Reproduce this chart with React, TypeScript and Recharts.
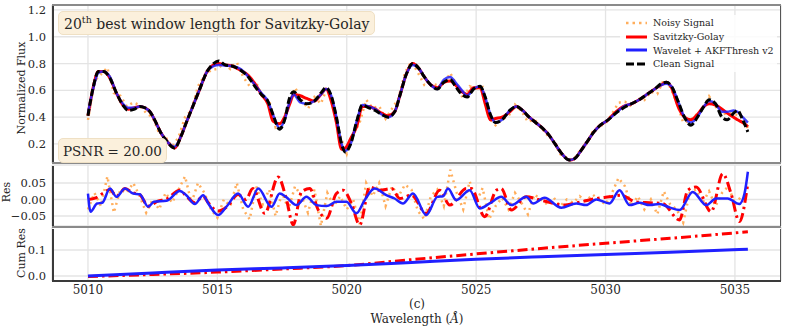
import React from 'react';
import { LineChart, Line, XAxis, YAxis, CartesianGrid } from 'recharts';

// wavelength grid for the smooth curves (top panel)
const fluxX = [
  5010.0, 5010.2, 5010.4, 5010.6, 5010.85, 5011.1, 5011.35, 5011.55, 5011.8, 5012.0,
  5012.2, 5012.4, 5012.6, 5012.8, 5013.05, 5013.35, 5013.6, 5013.8, 5014.05, 5014.3,
  5014.6, 5014.85, 5015.05, 5015.3, 5015.6, 5015.9, 5016.2, 5016.45, 5016.7, 5016.95,
  5017.15, 5017.4, 5017.6, 5017.8, 5017.95, 5018.2, 5018.45, 5018.75, 5019.0, 5019.2,
  5019.4, 5019.6, 5019.8, 5019.95, 5020.15, 5020.4, 5020.6, 5020.85, 5021.1, 5021.35,
  5021.6, 5021.85, 5022.05, 5022.3, 5022.55, 5022.8, 5023.0, 5023.25, 5023.5, 5023.75,
  5024.0, 5024.2, 5024.45, 5024.65, 5024.9, 5025.15, 5025.35, 5025.55, 5025.75, 5026.0,
  5026.3, 5026.55, 5026.8, 5027.05, 5027.3, 5027.55, 5027.8, 5028.05, 5028.3, 5028.6,
  5028.8, 5029.05, 5029.3, 5029.55, 5029.8, 5030.1, 5030.4, 5030.7, 5031.0, 5031.3,
  5031.6, 5031.9, 5032.15, 5032.35, 5032.55, 5032.8, 5033.05, 5033.3, 5033.55, 5033.8,
  5034.0, 5034.25, 5034.5, 5034.7, 5034.95, 5035.1, 5035.3, 5035.5,
];

const cleanFlux = [
  0.41, 0.62, 0.74, 0.74, 0.69, 0.58, 0.49, 0.45, 0.46, 0.48,
  0.47, 0.44, 0.37, 0.29, 0.22, 0.17, 0.26, 0.36, 0.48, 0.60,
  0.74, 0.80, 0.82, 0.79, 0.78, 0.75, 0.70, 0.63, 0.57, 0.52,
  0.42, 0.31, 0.38, 0.55, 0.59, 0.53, 0.50, 0.52, 0.58, 0.62,
  0.56, 0.40, 0.20, 0.14, 0.20, 0.38, 0.49, 0.47, 0.45, 0.42,
  0.40, 0.44, 0.56, 0.72, 0.80, 0.76, 0.70, 0.64, 0.61, 0.66,
  0.68, 0.63, 0.57, 0.55, 0.61, 0.63, 0.55, 0.42, 0.36, 0.38,
  0.45, 0.48, 0.45, 0.40, 0.36, 0.32, 0.27, 0.20, 0.13, 0.08,
  0.09, 0.15, 0.22, 0.29, 0.34, 0.38, 0.43, 0.47, 0.50, 0.53,
  0.57, 0.61, 0.65, 0.66, 0.63, 0.52, 0.40, 0.34, 0.40, 0.48,
  0.53, 0.50, 0.40, 0.38, 0.43, 0.45, 0.38, 0.29,
];

const sgFlux = [
  0.41, 0.62, 0.74, 0.74, 0.69, 0.58, 0.49, 0.46, 0.47, 0.48,
  0.47, 0.44, 0.37, 0.29, 0.22, 0.17, 0.26, 0.36, 0.48, 0.60,
  0.74, 0.79, 0.80, 0.79, 0.78, 0.75, 0.71, 0.65, 0.57, 0.50,
  0.37, 0.35, 0.40, 0.50, 0.57, 0.56, 0.54, 0.52, 0.57, 0.61,
  0.52, 0.36, 0.16, 0.17, 0.24, 0.34, 0.48, 0.48, 0.46, 0.43,
  0.41, 0.44, 0.56, 0.72, 0.80, 0.76, 0.70, 0.64, 0.62, 0.66,
  0.67, 0.64, 0.59, 0.57, 0.62, 0.62, 0.50, 0.38, 0.39, 0.40,
  0.44, 0.48, 0.45, 0.40, 0.36, 0.32, 0.27, 0.20, 0.13, 0.08,
  0.09, 0.15, 0.22, 0.29, 0.34, 0.38, 0.44, 0.48, 0.50, 0.53,
  0.57, 0.61, 0.64, 0.66, 0.62, 0.48, 0.40, 0.38, 0.42, 0.48,
  0.50, 0.49, 0.46, 0.43, 0.40, 0.38, 0.36, 0.33,
];

const waveletFlux = [
  0.43, 0.61, 0.73, 0.74, 0.70, 0.58, 0.50, 0.47, 0.47, 0.48,
  0.47, 0.44, 0.37, 0.29, 0.22, 0.18, 0.26, 0.36, 0.48, 0.60,
  0.74, 0.78, 0.79, 0.785, 0.78, 0.76, 0.70, 0.64, 0.58, 0.52,
  0.42, 0.32, 0.38, 0.52, 0.57, 0.51, 0.50, 0.52, 0.57, 0.61,
  0.56, 0.40, 0.20, 0.15, 0.20, 0.38, 0.49, 0.48, 0.46, 0.42,
  0.40, 0.44, 0.56, 0.72, 0.79, 0.76, 0.70, 0.64, 0.61, 0.68,
  0.70, 0.66, 0.60, 0.56, 0.61, 0.63, 0.55, 0.42, 0.36, 0.38,
  0.45, 0.48, 0.45, 0.40, 0.36, 0.32, 0.27, 0.20, 0.13, 0.08,
  0.09, 0.15, 0.22, 0.29, 0.34, 0.38, 0.43, 0.48, 0.50, 0.53,
  0.57, 0.61, 0.64, 0.65, 0.63, 0.52, 0.40, 0.36, 0.40, 0.48,
  0.52, 0.50, 0.44, 0.44, 0.45, 0.44, 0.40, 0.36,
];

// noisy observation, every 0.25 Å
const noisyX = Array.from({ length: 103 }, (_, i) => 5010 + i * 0.25);
const noisyFlux = [
  0.38, 0.67, 0.72, 0.77, 0.58, 0.56, 0.48, 0.51, 0.49, 0.43,
  0.40, 0.28, 0.25, 0.18, 0.25, 0.40, 0.45, 0.63, 0.71, 0.75,
  0.76, 0.80, 0.76, 0.81, 0.70, 0.63, 0.66, 0.545, 0.525, 0.325,
  0.365, 0.48, 0.62, 0.535, 0.463, 0.55, 0.50, 0.625, 0.46, 0.26,
  0.125, 0.27, 0.36, 0.53, 0.468, 0.483, 0.388, 0.464, 0.54, 0.733,
  0.815, 0.733, 0.64, 0.65, 0.64, 0.64, 0.73, 0.638, 0.536, 0.63,
  0.612, 0.625, 0.392, 0.34, 0.385, 0.408, 0.494, 0.446, 0.365, 0.383,
  0.328, 0.265, 0.219, 0.124, 0.097, 0.078, 0.148, 0.20, 0.29, 0.33,
  0.352, 0.425, 0.508, 0.515, 0.48, 0.535, 0.527, 0.59, 0.573, 0.68,
  0.623, 0.512, 0.36, 0.372, 0.418, 0.454, 0.555, 0.48, 0.42, 0.43,
  0.422, 0.408, 0.32,
];
const noisyRes = [
  -0.03, 0.02, -0.02, 0.07, -0.04, 0.03, 0.02, 0.05, 0.01, -0.04,
  0.0, -0.03, 0.02, -0.01, 0.03, 0.07, -0.01, 0.05, 0.02, -0.03,
  -0.055, 0.0, -0.02, 0.05, -0.03, -0.06, 0.04, -0.015, 0.03, -0.05,
  0.02, -0.03, 0.04, 0.01, -0.04, 0.03, -0.08, 0.02, -0.02, 0.01,
  -0.03, 0.0, -0.075, 0.05, 0.01, 0.05, -0.02, 0.04, 0.01, 0.045,
  0.03, -0.035, -0.06, 0.01, 0.03, -0.02, 0.09, 0.02, -0.03, 0.055,
  -0.01, 0.035, -0.06, -0.02, 0.005, -0.03, 0.02, -0.01, -0.045, 0.015,
  0.0, -0.015, 0.005, -0.02, 0.0, -0.01, 0.01, -0.005, 0.015, 0.0,
  -0.015, 0.02, 0.065, 0.04, -0.02, 0.01, -0.03, 0.0, -0.045, 0.025,
  -0.015, -0.03, -0.07, 0.02, 0.03, -0.01, 0.025, -0.02, 0.02, 0.04,
  -0.015, 0.01, 0.0,
];

// residuals of the two denoisers
const waveletResX = [
  5010.0, 5010.1, 5010.35, 5010.55, 5010.85, 5011.1, 5011.43, 5011.75, 5012.0, 5012.33,
  5012.55, 5013.04, 5013.55, 5013.8, 5014.13, 5014.45, 5014.65, 5015.03, 5015.35, 5015.8,
  5016.19, 5016.58, 5017.09, 5017.41, 5017.65, 5018.06, 5018.44, 5018.83, 5019.22, 5019.6,
  5019.99, 5020.37, 5020.69, 5021.08, 5021.53, 5021.85, 5022.17, 5022.56, 5023.07, 5023.5,
  5023.72, 5023.91, 5024.23, 5024.75, 5025.14, 5025.52, 5025.97, 5026.36, 5026.94, 5027.2,
  5027.64, 5028.29, 5028.87, 5029.25, 5029.64, 5030.15, 5030.54, 5030.93, 5031.31, 5031.7,
  5032.08, 5032.47, 5032.86, 5033.37, 5033.89, 5034.27, 5034.72, 5035.17, 5035.37, 5035.5,
];
const waveletRes = [
  0.018, -0.037, -0.012, -0.01, 0.033, 0.008, 0.033, 0.018, 0.016, -0.022,
  -0.007, -0.004, 0.026, 0.013, -0.014, 0.013, -0.012, -0.047, -0.022, 0.018,
  -0.022, 0.033, -0.022, 0.018, 0.008, -0.017, 0.008, -0.017, -0.02, -0.007,
  -0.007, -0.042, -0.002, 0.033, 0.013, 0.003, -0.012, 0.018, -0.047, 0.008,
  0.01, 0.033, -0.002, 0.028, -0.027, -0.012, 0.008, -0.017, 0.008, -0.012,
  0.005, -0.025, -0.012, -0.017, 0.0, -0.012, 0.028, -0.017, -0.01, -0.017,
  -0.014, -0.024, -0.032, 0.023, -0.017, 0.003, 0.003, -0.014, 0.018, 0.084,
];

const sgResX = [
  5010.0, 5010.3, 5010.6, 5010.85, 5011.1, 5011.43, 5011.75, 5012.0, 5012.33, 5012.7,
  5013.0, 5013.55, 5013.8, 5014.13, 5014.45, 5014.65, 5015.03, 5015.4, 5015.8, 5016.1,
  5016.37, 5016.83, 5017.35, 5017.67, 5017.93, 5018.25, 5018.57, 5018.9, 5019.22, 5019.6,
  5019.86, 5020.18, 5020.5, 5020.89, 5021.27, 5021.73, 5022.05, 5022.5, 5023.07, 5023.59,
  5023.98, 5024.62, 5024.81, 5025.33, 5025.78, 5025.97, 5026.36, 5026.94, 5027.4, 5027.9,
  5028.35, 5028.9, 5029.64, 5030.15, 5030.6, 5031.15, 5031.7, 5032.2, 5032.86, 5033.18,
  5033.5, 5034.08, 5034.53, 5034.85, 5035.17, 5035.5,
];
const sgRes = [
  0.0, 0.005, 0.02, 0.03, 0.01, 0.033, 0.02, 0.015, -0.02, -0.005,
  0.0, 0.028, 0.01, -0.01, 0.01, -0.01, -0.035, -0.02, 0.015, 0.0,
  0.033, -0.042, 0.068, 0.0, -0.077, 0.023, 0.033, -0.032, -0.057, 0.018,
  0.028, -0.012, -0.077, 0.038, 0.028, 0.033, 0.003, 0.013, -0.042, 0.028,
  -0.017, 0.033, 0.033, -0.052, 0.028, 0.033, -0.032, 0.008, 0.0, -0.01,
  -0.017, -0.01, 0.003, 0.008, 0.013, -0.007, -0.01, -0.012, -0.062, 0.028,
  0.038, -0.037, 0.078, 0.018, -0.067, 0.05,
];

// cumulative residuals
const cumX = [5010, 5012.5, 5015, 5017.5, 5020, 5022.5, 5025, 5027.5, 5030, 5032.5, 5035.5];
const sgCum = [-0.002, 0.006, 0.015, 0.027, 0.040, 0.063, 0.085, 0.106, 0.126, 0.145, 0.170];
const waveletCum = [0.0, 0.012, 0.023, 0.031, 0.040, 0.052, 0.064, 0.074, 0.083, 0.091, 0.103];

const zip = (xs: number[], ys: number[]) => xs.map((x, i) => ({ x, y: ys[i] }));

const cleanData = zip(fluxX, cleanFlux);
const sgData = zip(fluxX, sgFlux);
const waveletData = zip(fluxX, waveletFlux);
const noisyData = zip(noisyX, noisyFlux);
const noisyResData = zip(noisyX, noisyRes);
const sgResData = zip(sgResX, sgRes);
const waveletResData = zip(waveletResX, waveletRes);
const sgCumData = zip(cumX, sgCum);
const waveletCumData = zip(cumX, waveletCum);

const xTicks = [5010, 5015, 5020, 5025, 5030, 5035];
const X_DOMAIN: [number, number] = [5008.61, 5036.78];
const FONT = '"DejaVu Serif", serif';
const TEXT = '#262626';
const GRID = '#e4e4e4';
const ORANGE = '#ffae5c';
const RED = '#ff0000';
const BLUE = '#2020ff';

const tickStyle = { fontSize: 11.5, fill: TEXT, fontFamily: FONT };
const fmt = (d: number) => (v: number) => v.toFixed(d).replace('-', '\u2212');

function Frame({ top, height }: { top: number; height: number }) {
  return (
    <div
      style={{
        position: 'absolute', left: 52, top, width: 729, height,
        borderLeft: '2px solid #3a3a3a', borderRight: '1.5px solid #555',
        boxSizing: 'border-box', pointerEvents: 'none',
      }}
    />
  );
}

function HLine({ top, color = '#8a8a8a', w = 2 }: { top: number; color?: string; w?: number }) {
  return <div style={{ position: 'absolute', left: 52, top: top - w / 2, width: 729, height: w, background: color }} />;
}

function VLabel({ text, cx, cy }: { text: string; cx: number; cy: number }) {
  return (
    <div
      style={{
        position: 'absolute', left: cx, top: cy, fontSize: 11, lineHeight: '12px', color: TEXT, whiteSpace: 'nowrap',
        transform: 'translate(-50%, -50%) rotate(-90deg)',
      }}
    >
      {text}
    </div>
  );
}

const legendItems = [
  { label: 'Noisy Signal', color: ORANGE, dash: '2.5 4', w: 2.5 },
  { label: 'Savitzky-Golay', color: RED, dash: undefined, w: 3 },
  { label: 'Wavelet + AKFThresh v2', color: BLUE, dash: undefined, w: 3 },
  { label: 'Clean Signal', color: '#000', dash: '8 3', w: 3 },
];

export default function App() {
  return (
    <div style={{ position: 'absolute', left: 0, top: 0, width: 789, height: 327, background: '#fff', fontFamily: FONT, overflow: 'hidden' }}>
      <style>{`svg text { font-family: "DejaVu Serif", serif; }`}</style>
      {/* top panel: flux */}
      <div style={{ position: 'absolute', left: 0, top: 0 }}>
        <LineChart width={789} height={165} margin={{ top: 5, right: 8, bottom: 2, left: 0 }}>
          <CartesianGrid stroke={GRID} strokeWidth={1.3} />
          <XAxis type="number" dataKey="x" domain={X_DOMAIN} ticks={xTicks} interval={0} hide allowDataOverflow />
          <YAxis type="number" width={52} domain={[0.058, 1.237]} ticks={[0.2, 0.4, 0.6, 0.8, 1.0, 1.2]} interval={0}
            tickFormatter={fmt(1)} axisLine={false} tickLine={false} tickSize={0} tickMargin={6} tick={tickStyle} allowDataOverflow />
          <Line data={noisyData} dataKey="y" type="linear" stroke={ORANGE} strokeWidth={2.5} strokeDasharray="2 4" dot={false} isAnimationActive={false} />
          <Line data={sgData} dataKey="y" type="monotone" stroke={RED} strokeWidth={3} dot={false} isAnimationActive={false} />
          <Line data={waveletData} dataKey="y" type="monotone" stroke={BLUE} strokeOpacity={0.85} strokeWidth={2.5} dot={false} isAnimationActive={false} />
          <Line data={cleanData} dataKey="y" type="monotone" stroke="#000" strokeWidth={3} strokeDasharray="7 3" dot={false} isAnimationActive={false} />
        </LineChart>
      </div>

      {/* middle panel: residuals */}
      <div style={{ position: 'absolute', left: 0, top: 163 }}>
        <LineChart width={789} height={65} margin={{ top: 2, right: 8, bottom: 2, left: 0 }}>
          <CartesianGrid stroke={GRID} strokeWidth={1.3} />
          <XAxis type="number" dataKey="x" domain={X_DOMAIN} ticks={xTicks} interval={0} hide allowDataOverflow />
          <YAxis type="number" width={52} domain={[-0.0803, 0.1045]} ticks={[-0.05, 0, 0.05]} interval={0}
            tickFormatter={fmt(2)} axisLine={false} tickLine={false} tickSize={0} tickMargin={6} tick={tickStyle} allowDataOverflow />
          <Line data={noisyResData} dataKey="y" type="linear" stroke={ORANGE} strokeWidth={2.5} strokeDasharray="2 4" dot={false} isAnimationActive={false} />
          <Line data={sgResData} dataKey="y" type="monotone" stroke={RED} strokeWidth={3} strokeDasharray="10 4 2.5 4" dot={false} isAnimationActive={false} />
          <Line data={waveletResData} dataKey="y" type="monotone" stroke={BLUE} strokeWidth={2.5} dot={false} isAnimationActive={false} />
        </LineChart>
      </div>

      {/* bottom panel: cumulative residuals */}
      <div style={{ position: 'absolute', left: 0, top: 226 }}>
        <LineChart width={789} height={101} margin={{ top: 1, right: 8, bottom: 26, left: 0 }}>
          <CartesianGrid stroke={GRID} strokeWidth={1.3} />
          <XAxis type="number" dataKey="x" domain={X_DOMAIN} ticks={xTicks} interval={0} height={20} allowDataOverflow
            axisLine={false} tickLine={false} tickSize={0} tickMargin={4} tick={{ ...tickStyle, fontSize: 12 }} />
          <YAxis type="number" width={52} domain={[-0.0192, 0.1885]} ticks={[0, 0.1]} interval={0}
            tickFormatter={fmt(1)} axisLine={false} tickLine={false} tickSize={0} tickMargin={6} tick={tickStyle} allowDataOverflow />
          <Line data={sgCumData} dataKey="y" type="monotone" stroke={RED} strokeWidth={3} strokeDasharray="10 4 2.5 4" dot={false} isAnimationActive={false} />
          <Line data={waveletCumData} dataKey="y" type="monotone" stroke={BLUE} strokeWidth={3} dot={false} isAnimationActive={false} />
        </LineChart>
      </div>

      {/* spines */}
      <Frame top={5} height={158} />
      <Frame top={166} height={60} />
      <Frame top={229} height={52} />
      <HLine top={5} />
      <HLine top={163} />
      <HLine top={226.5} />
      <HLine top={281} color="#3a3a3a" w={1.5} />

      {/* axis titles */}
      <VLabel text="Normalized Flux" cx={22} cy={88} />
      <VLabel text="Res" cx={7} cy={192} />
      <VLabel text="Cum Res" cx={22} cy={253} />
      <div style={{ position: 'absolute', left: 417, top: 304, transform: 'translate(-50%, -50%)', fontSize: 12, color: TEXT }}>(c)</div>
      <div style={{ position: 'absolute', left: 417, top: 319, transform: 'translate(-50%, -50%)', fontSize: 12, color: TEXT, whiteSpace: 'nowrap' }}>
        Wavelength (<i>Å</i>)
      </div>

      {/* annotation boxes */}
      <div style={{ position: 'absolute', left: 58, top: 11, height: 24, padding: '0 5px', boxSizing: 'border-box', display: 'flex', alignItems: 'center',
        background: '#fbf0dc', border: '1px solid #efe0c4', borderRadius: 5, fontSize: 14, color: TEXT, whiteSpace: 'nowrap' }}>
        <span>20<sup style={{ fontSize: 9.5, verticalAlign: 6 }}>th</sup> best window length for Savitzky-Golay</span>
      </div>
      <div style={{ position: 'absolute', left: 58, top: 138, height: 25, padding: '0 4px', boxSizing: 'border-box', display: 'flex', alignItems: 'center',
        background: '#fbf0dc', border: '1px solid #efe0c4', borderRadius: 5, fontSize: 13.5, color: TEXT, whiteSpace: 'nowrap' }}>
        PSNR = 20.00
      </div>

      {/* legend */}
      <div style={{ position: 'absolute', left: 620, top: 15, background: 'rgba(255,255,255,0.85)', padding: '1px 3px' }}>
        {legendItems.map((it) => (
          <div key={it.label} style={{ display: 'flex', alignItems: 'center', height: 13.7, fontSize: 9.5, color: TEXT, whiteSpace: 'nowrap', fontFamily: FONT }}>
            <svg width={25} height={10} style={{ marginRight: 5 }}>
              <line x1={3} y1={5} x2={24} y2={5} stroke={it.color} strokeWidth={it.w} strokeDasharray={it.dash} />
            </svg>
            {it.label}
          </div>
        ))}
      </div>
    </div>
  );
}
